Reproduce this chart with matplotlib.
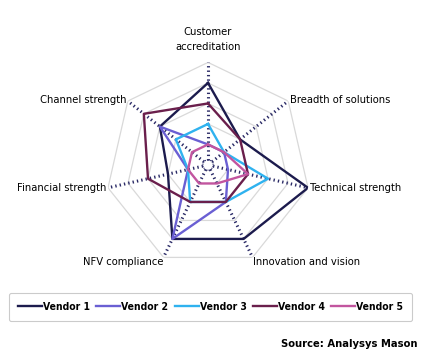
import numpy as np
import matplotlib
matplotlib.use("Agg")
from matplotlib import pyplot as plt

plt.rcParams['font.family'] = ['Liberation Sans Narrow', 'DejaVu Sans']
plt.rcParams['font.stretch'] = 'condensed'

categories = ["Customer\naccreditation", "Breadth of solutions", "Technical strength",
              "Innovation and vision", "NFV compliance", "Financial strength",
              "Channel strength"]
vendors = ["Vendor 1", "Vendor 2", "Vendor 3", "Vendor 4", "Vendor 5"]
vendor1 = [4, 2, 5, 4, 4, 2, 3]
vendor2 = [1, 1, 1, 2, 4, 1, 3]
vendor3 = [2, 1, 3, 2, 2, 1, 2]
vendor4 = [3, 2, 2, 2, 2, 3, 4]
vendor5 = [1, 1, 2, 1, 1, 1, 1]
series = [vendor1, vendor2, vendor3, vendor4, vendor5]
colors = ["#1c1b4d", "#6a5fd3", "#2fb2ef", "#6a1f4c", "#c2559f"]
levels = [1, 2, 3, 4, 5]

n = len(categories)
theta = np.linspace(0, 2 * np.pi, n, endpoint=False)
theta_c = np.append(theta, theta[0])

fig = plt.figure(figsize=(4.28, 3.62), dpi=100)
ax = fig.add_axes([0.2463, 0.2608, 0.4794, 0.5669], projection='polar')
ax.set_theta_offset(np.pi / 2)
ax.set_theta_direction(-1)
ax.set_ylim(0, 5)
ax.grid(False)
ax.spines['polar'].set_visible(False)
ax.set_xticks([])
ax.set_yticks([])
ax.patch.set_alpha(0)

# heptagon grid
for lv in levels:
    ax.plot(theta_c, [lv] * (n + 1), color="#d9d9d9", lw=0.9, zorder=1)

# dotted spokes
for t in theta:
    ax.plot([t, t], [0.25, 5], color="#2a2a66", lw=2.2, ls=(0, (0.45, 1.0)), zorder=2)
ax.plot(np.linspace(0, 2 * np.pi, 40), [0.25] * 40, color="#2a2a66", lw=0.8, ls=(0, (1, 1)), zorder=2)

for vals, col, name in zip(series, colors, vendors):
    v = vals + vals[:1]
    ax.plot(theta_c, v, color=col, lw=1.7, label=name, zorder=3)

# category labels
label_pos = [
    (0, 5.5, 'center', 'bottom'),
    (theta[1], 5.1, 'left', 'center'),
    (theta[2], 5.1, 'left', 'center'),
    (theta[3], 5.0, 'left', 'top'),
    (theta[4], 5.0, 'right', 'top'),
    (theta[5], 5.1, 'right', 'center'),
    (theta[6], 5.1, 'right', 'center'),
]
for (t, r, ha, va), lab in zip(label_pos, categories):
    ax.text(t, r, lab, ha=ha, va=va, fontsize=8, color="black",
            linespacing=1.6)

handles, labels = ax.get_legend_handles_labels()
leg = fig.legend(handles, labels, loc='center', bbox_to_anchor=(0.492, 0.152), ncol=5,
                 frameon=True, fancybox=True, edgecolor="#bfbfbf",
                 handlelength=2.3, handletextpad=0.1, columnspacing=0.6,
                 borderpad=0.9, prop={'weight': 'bold', 'size': 7.5})
leg.get_frame().set_linewidth(0.8)

fig.text(0.975, 0.05, "Source: Analysys Mason", ha='right', va='center',
         fontsize=8, fontweight='bold')

fig.savefig("out.png", dpi=100)
